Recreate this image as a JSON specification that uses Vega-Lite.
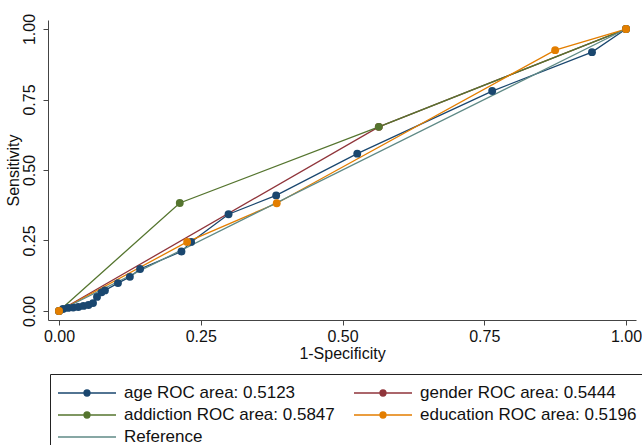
{
  "$schema": "https://vega.github.io/schema/vega-lite/v6.json",
  "width": 588,
  "height": 300,
  "autosize": {"type": "none"},
  "padding": {"left": 48, "top": 20, "right": 6, "bottom": 125},
  "background": "white",
  "config": {
    "view": {"stroke": null},
    "font": "Liberation Sans",
    "axis": {
      "grid": false,
      "labelFont": "Liberation Sans",
      "titleFont": "Liberation Sans",
      "labelFontSize": 16,
      "titleFontSize": 16,
      "titleFontWeight": "normal",
      "labelColor": "#111",
      "titleColor": "#111",
      "domainColor": "#444",
      "tickColor": "#444",
      "tickSize": 5,
      "labelFlush": false,
      "labelOverlap": false
    }
  },
  "data": {
    "values": [
      {"series": "age ROC area: 0.5123", "x": 0, "y": 0, "o": 0},
      {"series": "age ROC area: 0.5123", "x": 0.007, "y": 0.007, "o": 1},
      {"series": "age ROC area: 0.5123", "x": 0.016, "y": 0.011, "o": 2},
      {"series": "age ROC area: 0.5123", "x": 0.025, "y": 0.012, "o": 3},
      {"series": "age ROC area: 0.5123", "x": 0.034, "y": 0.014, "o": 4},
      {"series": "age ROC area: 0.5123", "x": 0.043, "y": 0.018, "o": 5},
      {"series": "age ROC area: 0.5123", "x": 0.052, "y": 0.021, "o": 6},
      {"series": "age ROC area: 0.5123", "x": 0.06, "y": 0.028, "o": 7},
      {"series": "age ROC area: 0.5123", "x": 0.067, "y": 0.05, "o": 8},
      {"series": "age ROC area: 0.5123", "x": 0.075, "y": 0.066, "o": 9},
      {"series": "age ROC area: 0.5123", "x": 0.081, "y": 0.073, "o": 10},
      {"series": "age ROC area: 0.5123", "x": 0.104, "y": 0.099, "o": 11},
      {"series": "age ROC area: 0.5123", "x": 0.125, "y": 0.121, "o": 12},
      {"series": "age ROC area: 0.5123", "x": 0.143, "y": 0.149, "o": 13},
      {"series": "age ROC area: 0.5123", "x": 0.216, "y": 0.211, "o": 14},
      {"series": "age ROC area: 0.5123", "x": 0.233, "y": 0.245, "o": 15},
      {"series": "age ROC area: 0.5123", "x": 0.299, "y": 0.343, "o": 16},
      {"series": "age ROC area: 0.5123", "x": 0.383, "y": 0.41, "o": 17},
      {"series": "age ROC area: 0.5123", "x": 0.526, "y": 0.558, "o": 18},
      {"series": "age ROC area: 0.5123", "x": 0.764, "y": 0.78, "o": 19},
      {"series": "age ROC area: 0.5123", "x": 0.94, "y": 0.918, "o": 20},
      {"series": "age ROC area: 0.5123", "x": 1, "y": 1, "o": 21},
      {"series": "gender ROC area: 0.5444", "x": 0, "y": 0, "o": 0},
      {"series": "gender ROC area: 0.5444", "x": 0.564, "y": 0.653, "o": 1},
      {"series": "gender ROC area: 0.5444", "x": 1, "y": 1, "o": 2},
      {"series": "addiction ROC area: 0.5847", "x": 0, "y": 0, "o": 0},
      {"series": "addiction ROC area: 0.5847", "x": 0.213, "y": 0.383, "o": 1},
      {"series": "addiction ROC area: 0.5847", "x": 0.564, "y": 0.653, "o": 2},
      {"series": "addiction ROC area: 0.5847", "x": 1, "y": 1, "o": 3},
      {"series": "education ROC area: 0.5196", "x": 0, "y": 0, "o": 0},
      {"series": "education ROC area: 0.5196", "x": 0.226, "y": 0.245, "o": 1},
      {"series": "education ROC area: 0.5196", "x": 0.384, "y": 0.382, "o": 2},
      {"series": "education ROC area: 0.5196", "x": 0.875, "y": 0.925, "o": 3},
      {"series": "education ROC area: 0.5196", "x": 1, "y": 1, "o": 4},
      {"series": "Reference", "x": 0, "y": 0, "o": 0},
      {"series": "Reference", "x": 1, "y": 1, "o": 1}
    ]
  },
  "encoding": {
    "x": {
      "field": "x",
      "type": "quantitative",
      "scale": {"domain": [-0.0194, 1.0176], "nice": false, "zero": false},
      "axis": {"title": "1-Specificity", "values": [0, 0.25, 0.5, 0.75, 1], "format": ".2f", "labelPadding": 3, "titlePadding": 1}
    },
    "y": {
      "field": "y",
      "type": "quantitative",
      "scale": {"domain": [-0.032, 1.032], "nice": false, "zero": false},
      "axis": {"title": "Sensitivity", "values": [0, 0.25, 0.5, 0.75, 1], "format": ".2f", "labelAngle": 270, "labelAlign": "center", "labelBaseline": "bottom", "labelPadding": 6, "titlePadding": 0}
    },
    "color": {
      "field": "series",
      "type": "nominal",
      "scale": {
        "domain": ["age ROC area: 0.5123", "gender ROC area: 0.5444", "addiction ROC area: 0.5847", "education ROC area: 0.5196", "Reference"],
        "range": ["#1a476f", "#90353b", "#55752f", "#e37e00", "#5f8a86"]
      },
      "legend": {
        "title": null,
        "orient": "none",
        "direction": "horizontal",
        "columns": 2,
        "legendX": 2,
        "legendY": 354,
        "padding": 8,
        "strokeColor": "#222",
        "fillColor": "white",
        "labelFont": "Liberation Sans",
        "labelFontSize": 17,
        "labelColor": "#111",
        "labelLimit": 400,
        "symbolSize": 400,
        "symbolStrokeWidth": 1.3,
        "labelOffset": 44,
        "columnPadding": 16,
        "rowPadding": 3,
        "encode": {
          "symbols": {
            "update": {
              "shape": {"signal": "datum.value === 'Reference' ? 'M-1.1,0L4.7,0' : 'M-1.1,0L4.7,0M1.5,0A0.3,0.3 0 1,0 2.1,0A0.3,0.3 0 1,0 1.5,0Z'"},
              "fill": {"scale": "color", "field": "value"},
              "stroke": {"scale": "color", "field": "value"},
              "strokeWidth": {"value": 1.3},
              "opacity": {"value": 1}
            }
          }
        }
      }
    }
  },
  "layer": [
    {
      "mark": {"type": "line", "strokeWidth": 1.3},
      "encoding": {"order": {"field": "o", "type": "quantitative"}}
    },
    {
      "transform": [{"filter": "datum.series !== 'Reference'"}],
      "mark": {"type": "point", "filled": true, "size": 62, "opacity": 1, "shape": "circle"}
    }
  ]
}
